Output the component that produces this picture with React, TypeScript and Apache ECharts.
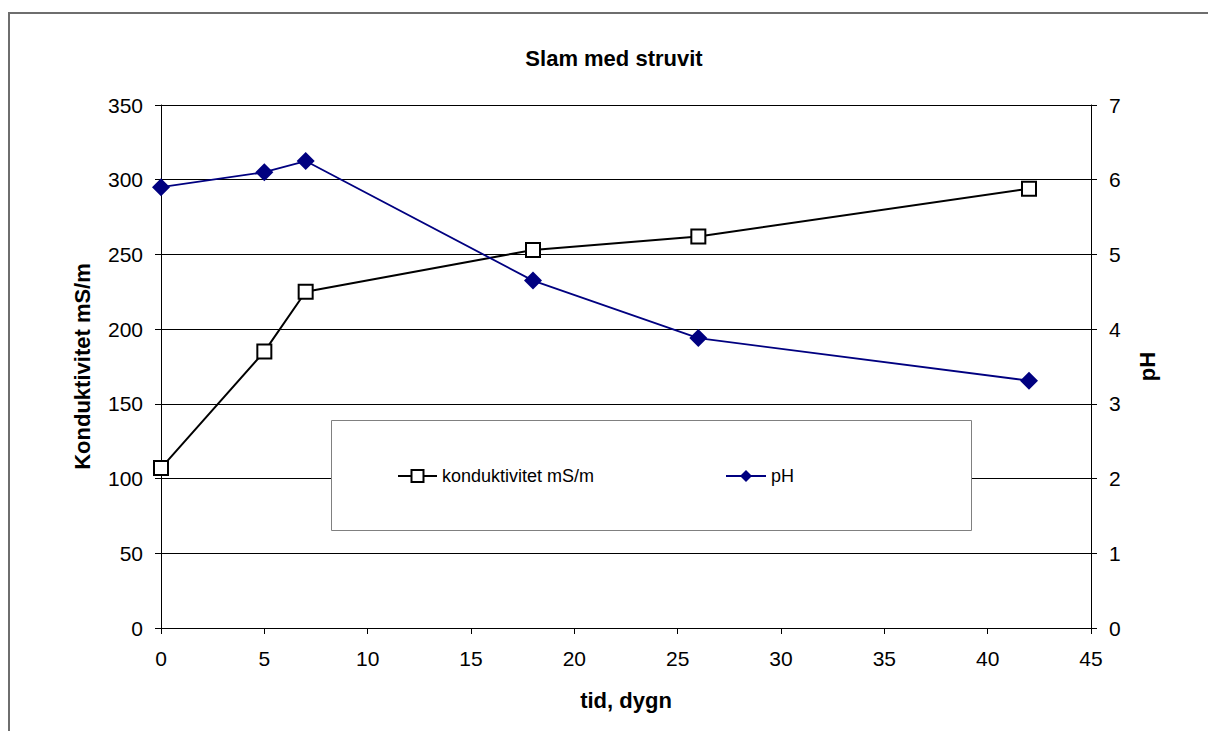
import React, { useEffect, useRef } from "react";
import * as echarts from "echarts";

// Time in days and measured values
const days = [0, 5, 7, 18, 26, 42];
const conductivity = [107, 185, 225, 253, 262, 294];
const ph = [5.9, 6.1, 6.25, 4.65, 3.88, 3.31];

const titleText = "Slam med struvit";
const condName = "konduktivitet mS/m";
const phName = "pH";
const xAxisName = "tid, dygn";
const leftAxisName = "Konduktivitet mS/m";
const rightAxisName = "pH";

const FONT = "'Liberation Sans', Arial, sans-serif";

export default function App() {
  const ref = useRef<HTMLDivElement>(null);

  useEffect(() => {
    if (!ref.current) return;
    const chart = echarts.init(ref.current, undefined, { renderer: "svg" });
    const tickLabel = { color: "#000", fontSize: 21, fontFamily: FONT };
    const axisName = { color: "#000", fontSize: 22, fontWeight: "bold" as const, fontFamily: FONT };

    chart.setOption({
      animation: false,
      backgroundColor: "#fff",
      title: {
        text: titleText,
        left: 614,
        textAlign: "center",
        top: 47,
        padding: 0,
        textStyle: { color: "#000", fontSize: 22, fontWeight: "bold", fontFamily: FONT },
      },
      grid: { left: 161, right: 117, top: 105, bottom: 103, containLabel: false },
      graphic: [
        {
          type: "rect",
          shape: { x: 9, y: 13, width: 1400, height: 900 },
          style: { fill: "none", stroke: "#6e6e6e", lineWidth: 2 },
          silent: true,
          z: 0,
        },
        {
          type: "rect",
          shape: { x: 331.5, y: 420.5, width: 640, height: 110 },
          style: { fill: "#fff", stroke: "#808080", lineWidth: 1 },
          silent: true,
          z: 5,
        },
      ],
      legend: [
        {
          data: [condName],
          left: 397,
          top: 467,
          itemWidth: 39,
          itemHeight: 15,
          itemGap: 5,
          padding: 0,
          textStyle: { color: "#000", fontSize: 18, fontFamily: FONT },
          z: 10,
        },
        {
          data: [phName],
          left: 725,
          top: 467,
          itemWidth: 40,
          itemHeight: 15,
          itemGap: 5,
          padding: 0,
          textStyle: { color: "#000", fontSize: 18, fontFamily: FONT },
          z: 10,
        },
      ],
      xAxis: {
        type: "value",
        min: 0,
        max: 45,
        interval: 5,
        name: xAxisName,
        nameLocation: "middle",
        nameGap: 61,
        nameTextStyle: axisName,
        axisLine: { show: true, lineStyle: { color: "#000", width: 1 } },
        axisTick: { show: true, inside: false, length: 6, lineStyle: { color: "#000" } },
        axisLabel: { ...tickLabel, margin: 20 },
        splitLine: { show: false },
      },
      yAxis: [
        {
          type: "value",
          min: 0,
          max: 350,
          interval: 50,
          position: "left",
          name: leftAxisName,
          nameLocation: "middle",
          nameRotate: 90,
          nameGap: 68,
          nameTextStyle: axisName,
          axisLine: { show: true, lineStyle: { color: "#000", width: 1 } },
          axisTick: { show: true, length: 6, lineStyle: { color: "#000" } },
          axisLabel: { ...tickLabel, margin: 18 },
          splitLine: { show: true, lineStyle: { color: "#000", width: 1 } },
        },
        {
          type: "value",
          min: 0,
          max: 7,
          interval: 1,
          position: "right",
          name: rightAxisName,
          nameLocation: "middle",
          nameRotate: 90,
          nameGap: 45,
          nameTextStyle: axisName,
          axisLine: { show: true, lineStyle: { color: "#000", width: 1 } },
          axisTick: { show: true, length: 6, lineStyle: { color: "#000" } },
          axisLabel: { ...tickLabel, margin: 18 },
          splitLine: { show: false },
        },
      ],
      series: [
        {
          name: condName,
          type: "line",
          yAxisIndex: 0,
          data: days.map((d, i) => [d, conductivity[i]]),
          symbol: "rect",
          symbolSize: 14,
          lineStyle: { color: "#000", width: 2 },
          itemStyle: { color: "#fff", borderColor: "#000", borderWidth: 2 },
          z: 3,
        },
        {
          name: phName,
          type: "line",
          yAxisIndex: 1,
          data: days.map((d, i) => [d, ph[i]]),
          symbol: "diamond",
          symbolSize: 18,
          lineStyle: { color: "#000080", width: 1.8 },
          itemStyle: { color: "#000080", borderColor: "#000080", borderWidth: 0 },
          z: 3,
        },
      ],
    });
    return () => chart.dispose();
  }, []);

  return (
    <div
      ref={ref}
      style={{ position: "fixed", left: 0, top: 0, width: 1208, height: 731 }}
    />
  );
}
